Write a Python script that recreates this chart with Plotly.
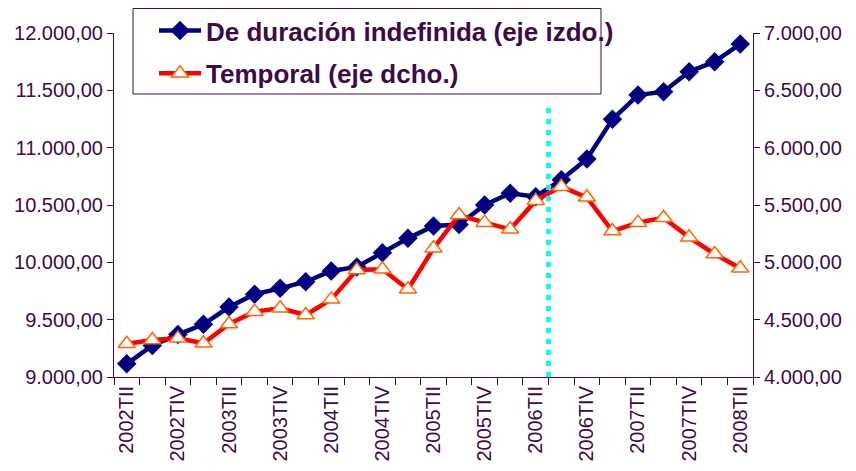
import plotly.graph_objects as go

quarters = []
for yr in range(2002, 2009):
    for q in ["TI", "TII", "TIII", "TIV"]:
        quarters.append(f"{yr}{q}")
quarters = quarters[quarters.index("2002TII"):quarters.index("2008TII") + 1]

indefinida = [9115, 9275, 9370, 9460, 9610, 9722, 9773, 9831, 9925, 9960,
              10084, 10209, 10317, 10330, 10500, 10602, 10573, 10720, 10902,
              11247, 11459, 11488, 11663, 11750, 11904]
temporal = [4290, 4323, 4337, 4294, 4462, 4570, 4599, 4541, 4677, 4933,
            4940, 4765, 5122, 5413, 5346, 5288, 5538, 5660, 5567, 5273,
            5346, 5389, 5218, 5073, 4948]

left_ticks = [9000, 9500, 10000, 10500, 11000, 11500, 12000]
right_ticks = [4000, 4500, 5000, 5500, 6000, 6500, 7000]


def fmt(v):
    return f"{v:,.2f}".replace(",", "X").replace(".", ",").replace("X", ".")


xidx = list(range(len(quarters)))
purple = "#3d0b47"
font_family = "Arial, Liberation Sans, sans-serif"

# Figure geometry (page body adds 8px offset)
W, H = 848, 463
L, R, T, B = 106, 745, 25, 369
PW, PH = R - L, B  # paper width, paper height (t margin = 0)


def px(x):
    return (x - L) / PW


def py(y):
    return (B - y) / PH


fig = go.Figure()
fig.add_trace(go.Scatter(
    x=xidx, y=indefinida, name="De duración indefinida (eje izdo.)",
    mode="lines+markers", legendgroup="a",
    line=dict(color="#000080", width=4.5),
    marker=dict(symbol="diamond", size=15, color="#000080"),
))
fig.add_trace(go.Scatter(
    x=xidx, y=temporal, name="Temporal (eje dcho.)", yaxis="y2",
    mode="lines+markers", legendgroup="b",
    line=dict(color="#FF0000", width=4.5),
    marker=dict(symbol="triangle-up", size=15, color="white",
                line=dict(color="#FF6600", width=1.5)),
))

cut = quarters.index("2006TII") + 0.5
fig.add_shape(type="line", xref="x", yref="y", x0=cut, x1=cut, y0=9000, y1=11380,
              line=dict(color="#00FFFF", width=5, dash="5px,6px"))

# legend frame
fig.add_shape(type="rect", xref="paper", yref="paper", layer="above",
              x0=px(125), x1=px(593), y0=py(86), y1=py(0.5),
              fillcolor="white", line=dict(color=purple, width=1))

fig.update_layout(
    width=W, height=H,
    margin=dict(l=L, r=W - R, t=0, b=H - B, autoexpand=False),
    paper_bgcolor="white", plot_bgcolor="white",
    font=dict(family=font_family, color=purple, size=20),
    showlegend=True,
    legend=dict(x=px(146), y=py(-1), xanchor="left", yanchor="top",
                bgcolor="rgba(0,0,0,0)", borderwidth=0,
                font=dict(size=26, color=purple, family=font_family, weight="bold"),
                itemwidth=42, tracegroupgap=6),
    xaxis=dict(range=[-0.5, len(quarters) - 0.5], automargin=False,
               tickvals=xidx[::2], ticktext=quarters[::2],
               tickangle=-90, ticks="", showgrid=False, zeroline=False,
               showline=True, linecolor=purple, linewidth=1,
               tickfont=dict(size=20, color=purple),
               minor=dict(ticks="outside", ticklen=7, tickcolor=purple,
                          tick0=0.5, dtick=1, showgrid=False)),
    yaxis=dict(range=[9000, 12000], tickvals=left_ticks, automargin=False,
               domain=[0, py(T)],
               ticktext=[fmt(v) for v in left_ticks],
               ticks="outside", ticklen=6, tickcolor=purple,
               showgrid=False, zeroline=False, showline=True,
               linecolor=purple, linewidth=1,
               tickfont=dict(size=20, color=purple)),
    yaxis2=dict(range=[4000, 7000], overlaying="y", side="right", automargin=False,
                tickvals=right_ticks, ticktext=[fmt(v) for v in right_ticks],
                ticks="outside", ticklen=6, tickcolor=purple,
                showgrid=False, zeroline=False, showline=True,
                linecolor=purple, linewidth=1,
                tickfont=dict(size=20, color=purple)),
)

fig.write_html("out.html")
